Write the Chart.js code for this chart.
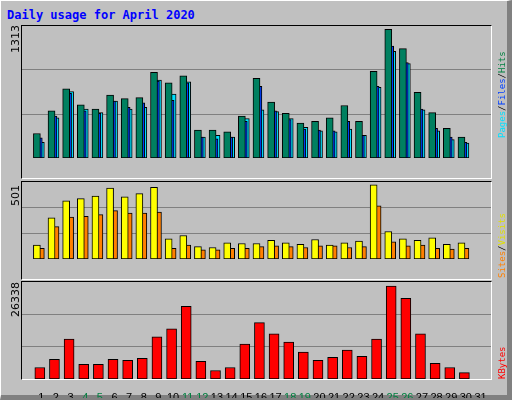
<!doctype html>
<html>
<head>
	<title>Daily usage for April 2020</title>
	<script src="https://cdn.jsdelivr.net/npm/chart.js@4/dist/chart.umd.min.js"></script>
	<style>
		body { margin: 0; }
		#frame {
			position: absolute; left: 0; top: 0; width: 506px; height: 394px;
			background: #c0c0c0; border-top: 1px solid #fff; border-left: 1px solid #fff;
			border-right: 5px solid #808080; border-bottom: 5px solid #808080;
			font-family: "DejaVu Sans Mono", monospace;
		}
		.panel { position: absolute; border-top: 1px solid #000; border-left: 1px solid #000;
			border-right: 1px solid #fff; border-bottom: 1px solid #fff; pointer-events: none; }
		.cv { position: absolute; }
		.vlab { position: absolute; transform-origin: left top; transform: rotate(-90deg);
			font-size: 9px; white-space: nowrap; }
		.num { font-family: 'DejaVu Sans', sans-serif; font-size: 11px; }
		#title { position: absolute; left: 6px; top: 7px; color: #0000ff; font-weight: bold; font-size: 12px; }
	</style>
</head>
<body>
<div id="frame">
	<div id="title">Daily usage for April 2020</div>
	<div class="cv" style="left:21px;top:25px;width:469px;height:151px"><canvas id="c1"></canvas></div>
	<div class="cv" style="left:21px;top:181px;width:469px;height:96px"><canvas id="c2"></canvas></div>
	<div class="cv" style="left:21px;top:281px;width:469px;height:116px"><canvas id="c3"></canvas></div>
	<div class="panel" style="left:20px;top:24px;width:469px;height:152px"></div>
	<div class="panel" style="left:20px;top:180px;width:469px;height:97px"></div>
	<div class="panel" style="left:20px;top:280px;width:469px;height:97px"></div>
	<div class="vlab num" style="left:8px;top:52px">1313</div>
	<div class="vlab num" style="left:8px;top:205px">501</div>
	<div class="vlab num" style="left:8px;top:316px">26338</div>
	<div class="vlab" style="left:496px;top:137px"><span style="color:#00e0ff">Pages</span>/<span style="color:#0040ff">Files</span>/<span style="color:#008040">Hits</span></div>
	<div class="vlab" style="left:496px;top:277px"><span style="color:#ff8000">Sites</span>/<span style="color:#e0e000">Visits</span></div>
	<div class="vlab" style="left:496px;top:378px;color:#ff0000">KBytes</div>
</div>
<script>
	const days = Array.from({length: 31}, (_, i) => i + 1);
	const weekendDays = [4, 5, 11, 12, 18, 19, 25, 26];
	const hits = [244, 470, 687, 530, 487, 626, 591, 600, 853, 748, 818, 278, 278, 261, 417, 792, 557, 444, 348, 365, 400, 522, 365, 861, 1279, 1088, 653, 452, 296, 209];
	const files = [200, 417, 644, 470, 444, 566, 505, 548, 766, 574, 748, 209, 191, 209, 365, 713, 470, 383, 287, 278, 270, 365, 226, 713, 1114, 948, 487, 296, 209, 157];
	const pages = [157, 400, 661, 487, 452, 566, 487, 505, 774, 635, 757, 209, 226, 209, 391, 478, 461, 391, 304, 270, 261, 287, 226, 704, 1061, 939, 478, 270, 183, 148];
	const visits = [90, 268, 378, 393, 409, 461, 404, 425, 466, 132, 153, 80, 75, 106, 101, 101, 122, 106, 96, 127, 90, 106, 117, 482, 179, 132, 122, 137, 96, 106];
	const sites = [70, 211, 273, 278, 289, 315, 299, 299, 305, 70, 90, 59, 59, 70, 70, 80, 85, 80, 75, 85, 85, 75, 80, 346, 111, 85, 90, 70, 64, 70];
	const kbytes = [3131, 5340, 10870, 3960, 3960, 5340, 5070, 5620, 11420, 13630, 19710, 4790, 2300, 3130, 9490, 15290, 12250, 10040, 7280, 5070, 5900, 7830, 6170, 10870, 25240, 21920, 12250, 4240, 3130, 1750];
	const maxHits = 1313, maxVisits = 501, maxKbytes = 26338;

	// order: higher drawn first, so the later series sits on top
	function series(values, shift, color, width, order) {
		return {
			data: values.map((v, i) => ({x: days[i] + shift, y: v})),
			backgroundColor: color, borderColor: '#000', borderWidth: 1,
			barThickness: width, grouped: false, borderSkipped: false, order: order
		};
	}

	function makeChart(id, datasets, max, showDays) {
		return new Chart(document.getElementById(id), {
			type: 'bar',
			data: {datasets: datasets},
			options: {
				responsive: true, maintainAspectRatio: false, animation: false,
				layout: {padding: 0},
				plugins: {legend: {display: false}, tooltip: {enabled: false}},
				scales: {
					x: {
						type: 'linear', min: 0.5, max: 31.5, display: showDays,
						grid: {display: false}, border: {display: false},
						afterBuildTicks: (s) => { s.ticks = days.map(d => ({value: d + 0.3})); },
						afterFit: (s) => { s.height = 19; },
						ticks: {
							autoSkip: false, maxRotation: 0, padding: 4,
							font: {family: 'Liberation Sans', size: 11},
							callback: (v) => Math.round(v - 0.3),
							color: (ctx) => weekendDays.includes(Math.round(ctx.tick.value - 0.3)) ? '#008040' : '#000'
						}
					},
					y: {
						min: 0, max: max,
						afterBuildTicks: (s) => { s.ticks = [1, 2].map(k => ({value: max * k / 3})); },
						afterFit: (s) => { s.width = 0; },
						ticks: {display: false},
						grid: {color: '#808080', drawTicks: false},
						border: {display: false}
					}
				}
			}
		});
	}

	makeChart('c1', [
		series(hits, 0, '#008060', 7, 0),
		series(files, 0.13, '#0040ff', 7, 1),
		series(pages, 0.27, '#00e0ff', 7, 2)
	], maxHits, false);
	makeChart('c2', [
		series(visits, 0, '#ffff00', 7, 0),
		series(sites, 0.27, '#ff8000', 7, 1)
	], maxVisits, false);
	makeChart('c3', [
		series(kbytes, 0.2, '#ff0000', 10, 0)
	], maxKbytes, true);
</script>
</body>
</html>
